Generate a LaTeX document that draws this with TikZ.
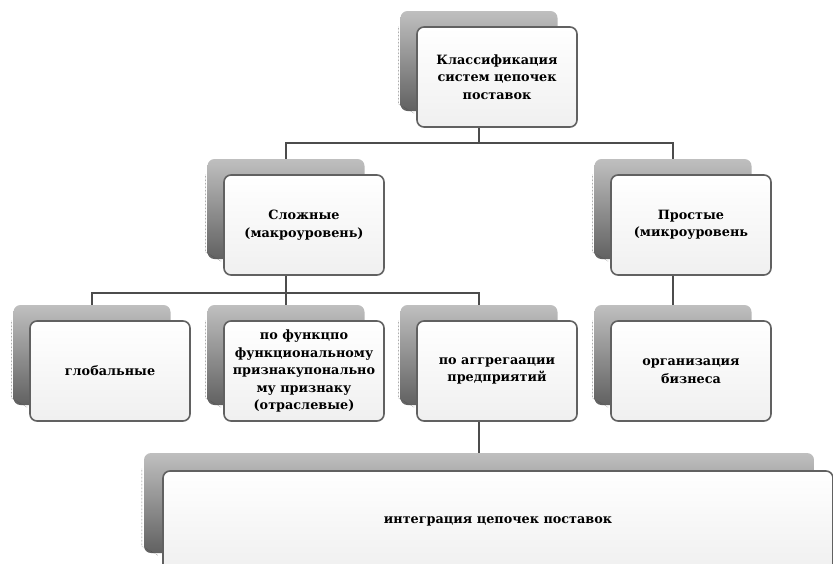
\documentclass[tikz,border=0pt]{standalone}
\usepackage{fontspec}
\setmainfont{DejaVu Serif}
\usetikzlibrary{positioning}

\begin{document}
\begin{tikzpicture}[x=1pt,y=-1pt,
        back/.style={rounded corners=7pt,top color=black!25,bottom color=black!62,
            minimum width=157pt,minimum height=100pt,inner sep=0pt},
        front/.style={draw=black!62,line width=1.6pt,rounded corners=7pt,
            top color=white,bottom color=black!6,minimum width=160pt,minimum height=100pt,
            align=center,inner sep=2pt,font=\bfseries\fontsize{12.8}{17.5}\selectfont},
        link/.style={draw=black!70,line width=1.8pt}]
    \useasboundingbox (0,0) rectangle (833,563);

    % Tarjetas de sombra
    \foreach \n/\x/\y in {top/479/61,comp/286/209,simp/673/209,glob/92/355,func/286/355,aggr/479/355,org/673/355}
    {
        \node[back] (b-\n) at (\x,\y) {};
        \draw[densely dotted,black!75] ([shift={(-2pt,-16pt)}]b-\n.north west) -- ([shift={(-2pt,7pt)}]b-\n.south west) -- ([shift={(14pt,-2pt)}]b-\n.south west);
    }
    \node[back,minimum width=670pt] (b-integ) at (479,503) {};
    \draw[densely dotted,black!75] ([shift={(-2pt,-16pt)}]b-integ.north west) -- ([shift={(-2pt,7pt)}]b-integ.south west) -- ([shift={(14pt,-2pt)}]b-integ.south west);

    % Conectores
    \draw[link] (b-top.south) -- ++(0,32);
    \draw[link] (b-comp.north) |- ([yshift=-32pt]b-top.south) -| (b-simp.north);
    \draw[link] (b-comp.south) -- (b-func.north);
    \draw[link] (b-glob.north) |- ([yshift=-34pt]b-comp.south) -| (b-aggr.north);
    \draw[link] (b-simp.south) -- (b-org.north);
    \draw[link] (b-aggr.south) -- (b-integ.north);

    % Cajas
    \node[front] (top) at ([shift={(18,16)}]b-top.center) {Классификация\\систем цепочек\\поставок};
    \node[front] (comp) at ([shift={(18,16)}]b-comp.center) {Сложные\\(макроуровень)};
    \node[front] (simp) at ([shift={(18,16)}]b-simp.center) {Простые\\(микроуровень};
    \node[front] (glob) at ([shift={(18,16)}]b-glob.center) {глобальные};
    \node[front] (func) at ([shift={(18,16)}]b-func.center) {по функцпо\\функциональному\\признакупонально\\му признаку\\(отраслевые)};
    \node[front] (aggr) at ([shift={(18,16)}]b-aggr.center) {по аггрегаации\\предприятий};
    \node[front] (org) at ([shift={(18,16)}]b-org.center) {организация\\бизнеса};
    \node[front,minimum width=670pt] (integ) at ([shift={(19,18)}]b-integ.center) {интеграция цепочек поставок};
\end{tikzpicture}
\end{document}
